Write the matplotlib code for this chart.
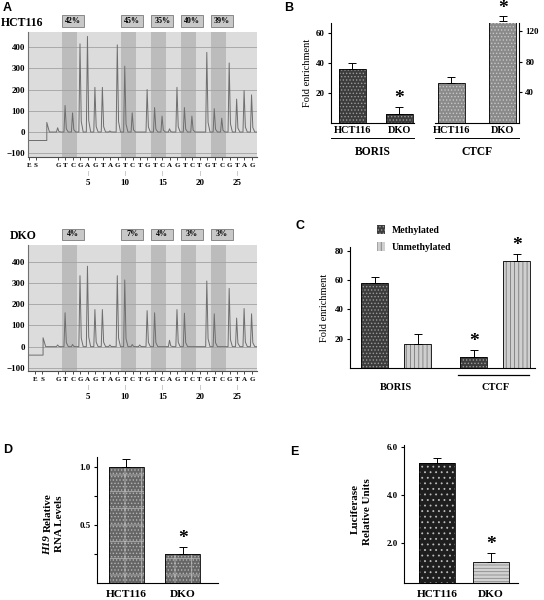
import matplotlib.pyplot as plt
import matplotlib.transforms as mtransforms
from matplotlib.patches import Patch, Rectangle

W, H = 544, 600
plt.rcParams['font.family'] = 'Liberation Serif'
plt.rcParams['font.weight'] = 'bold'
plt.rcParams['hatch.linewidth'] = 0.6

# ---- data ----
# panel A: pyrograms
seq = list('GTCGAGTAGTCTGTCAGTCTGTCGTAG')
positions = list(range(1, len(seq) + 1))
cpg_sites = [2, 10, 14, 18, 22]
hct_pct = ['42%', '45%', '35%', '40%', '39%']
dko_pct = ['4%', '7%', '4%', '3%', '3%']
hct_peaks = [20, 125, 90, 415, 450, 210, 210, 5, 410, 310, 90, 0, 200, 115, 75,
             15, 210, 115, 75, 0, 375, 110, 65, 325, 155, 195, 175]
dko_peaks = [8, 160, 10, 335, 380, 175, 175, 8, 335, 315, 10, 8, 170, 160, 0,
             30, 175, 158, 0, 0, 310, 155, 0, 275, 135, 180, 155]
pyro_yticks = [-100, 0, 100, 200, 300, 400]
num_ticks = [5, 10, 15, 20, 25]

# panel B: ChIP fold enrichment
cells = ['HCT116', 'DKO']
boris_b = [36, 6]
boris_b_err = [4, 4.5]
ctcf_b = [52, 133]
ctcf_b_err = [7.5, 7]

# panel C: methylated / unmethylated
groups = ['BORIS', 'CTCF']
meth = [58, 7.5]
meth_err = [4, 4.5]
unmeth = [16.5, 73]
unmeth_err = [6.5, 5]

# panel D: H19 RNA
h19 = [1.0, 0.25]
h19_err = [0.07, 0.06]

# panel E: luciferase
luc = [5.35, 1.2]
luc_err = [0.22, 0.34]

fig = plt.figure(figsize=(W / 100, H / 100), dpi=100)


def add_ax(x0, y0, x1, y1):
    return fig.add_axes([x0 / W, 1 - y1 / H, (x1 - x0) / W, (y1 - y0) / H])


def pbar(ax, x, h, w, fc, hatch, hc):
    ax.bar(x, h, w, color=fc, hatch=hatch, edgecolor=hc, linewidth=0, zorder=2)
    ax.bar(x, h, w, fill=False, edgecolor='black', linewidth=0.6, zorder=3)


def ebar(ax, x, h, e):
    ax.errorbar(x, h, yerr=[[0] * len(h), e], fmt='none', ecolor='black',
                elinewidth=0.7, capsize=3, capthick=0.7, zorder=4, clip_on=False)


def star(ax, x, y, dy=0):
    ax.annotate('*', (x, y), xytext=(0, dy), textcoords='offset points',
                ha='center', va='bottom', fontsize=14, annotation_clip=False)


def letter(x, y, s):
    fig.text(x / W, 1 - y / H, s, family='Liberation Sans', weight='bold',
             fontsize=9, ha='left', va='center')


# ---- panel A ----
def pyro(box, peaks, pct, es_pos, step_x, spike, ylim):
    x0, y0, x1, y1 = box
    ax = add_ax(*box)
    ax.set_xlim(-3.02, 27.68)
    ax.set_ylim(*ylim)
    ax.set_facecolor('#dcdcdc')
    for p in cpg_sites:
        ax.axvspan(p - 0.5, p + 1.5, color='#bcbcbc', lw=0, zorder=0.5)
    for t in pyro_yticks:
        ax.axhline(t, color='#a2a2a2', lw=0.6, zorder=1)
    # trace: baseline step, then one spike per dispensation
    xs = [-3.02, step_x, step_x, step_x + 0.35]
    ys = [-40, -40, spike, 0]
    for p, h in zip(positions, peaks):
        xs += [p - 0.2, p - 0.05, p + 0.12, p + 0.38]
        ys += [0, h, 0.12 * h, 0]
    xs.append(27.68)
    ys.append(0)
    ax.plot(xs, ys, color='#6e6e6e', lw=0.7, zorder=2)
    for s in ['top', 'right']:
        ax.spines[s].set_visible(False)
    ax.spines['left'].set_color('#707070')
    ax.spines['bottom'].set_color('#505050')
    ax.set_yticks(pyro_yticks)
    ax.tick_params(axis='y', length=0, labelsize=6.5, pad=2)
    ax.set_xticks(es_pos + positions)
    ax.set_xticklabels(['E', 'S'] + seq, fontsize=5)
    ax.tick_params(axis='x', length=2, width=0.5, pad=2)
    hpx = y1 - y0
    tr = mtransforms.blended_transform_factory(ax.transData, ax.transAxes)
    for n in num_ticks:
        ax.text(n, -16 / hpx, '|', transform=tr, ha='center', va='center',
                fontsize=4, weight='normal', color='#404040')
        ax.text(n, -26 / hpx, str(n), transform=tr, ha='center', va='center',
                fontsize=6.5)
    for p, s in zip(cpg_sites, pct):
        ax.add_patch(Rectangle((p - 0.5, 1 + 5.5 / hpx), 2.95, 11 / hpx,
                               transform=tr, fc='#c8c8c8', ec='#7a7a7a',
                               lw=0.6, clip_on=False))
        ax.text(p + 0.975, 1 + 11 / hpx, s, transform=tr, ha='center',
                va='center', fontsize=5.8)
    return ax


pyro((28, 32, 257, 157), hct_peaks, hct_pct, [-2.9, -1.95], -0.5, 45, (-117.6, 470.6))
pyro((28, 245, 257, 371), dko_peaks, dko_pct, [-2.1, -1.1], -1.0, 42, (-115, 480))
fig.text(1 / W, 1 - 23 / H, 'HCT116', fontsize=8.5, va='center')
fig.text(10 / W, 1 - 236 / H, 'DKO', fontsize=8.5, va='center')
letter(3, 8, 'A')

# ---- panel B ----
xs2 = [0, 1]
axb1 = add_ax(331, 23, 414, 123)
axb1.set_xlim(-0.46, 1.32)
axb1.set_ylim(0, 66.7)
pbar(axb1, xs2, boris_b, 0.58, '#3c3c3c', '.....', '#9a9a9a')
ebar(axb1, xs2, boris_b, boris_b_err)
star(axb1, 1, boris_b[1] + boris_b_err[1])
axb1.set_yticks([20, 40, 60])
axb1.set_ylabel('Fold enrichment', fontsize=7.5, labelpad=3)

axb2 = add_ax(435, 23, 519, 123)
axb2.set_xlim(-0.32, 1.32)
axb2.set_ylim(0, 130.7)
pbar(axb2, xs2, ctcf_b, 0.53, '#8a8a8a', '.....', '#c6c6c6')
ebar(axb2, xs2, ctcf_b, ctcf_b_err)
star(axb2, 1, ctcf_b[1] + ctcf_b_err[1], dy=-1)
axb2.yaxis.tick_right()
axb2.set_yticks([40, 80, 120])

for ax, name in [(axb1, 'BORIS'), (axb2, 'CTCF')]:
    for s in ['top', 'right', 'left']:
        ax.spines[s].set_visible(False)
    ax.spines['left' if ax is axb1 else 'right'].set_visible(True)
    ax.set_xticks(xs2)
    ax.set_xticklabels(cells, fontsize=7.5)
    ax.tick_params(axis='x', length=0, pad=2)
    ax.tick_params(axis='y', length=2.5, labelsize=6.5, pad=2)
    ax.plot([0, 1], [-0.15, -0.15], transform=ax.transAxes, color='black',
            lw=0.7, clip_on=False)
    ax.text(0.5, -0.29, name, transform=ax.transAxes, ha='center', va='center',
            fontsize=8.3)
letter(284, 8, 'B')

# ---- panel C ----
axc = add_ax(350, 247, 535, 368)
axc.set_xlim(-0.465, 1.40)
axc.set_ylim(0, 82.7)
gx = [0, 1]
off = 0.218
pbar(axc, [g - off for g in gx], meth, 0.273, '#3c3c3c', '.....', '#9a9a9a')
pbar(axc, [g + off for g in gx], unmeth, 0.273, '#cfcfcf', '||||', '#7a7a7a')
ebar(axc, [g - off for g in gx], meth, meth_err)
ebar(axc, [g + off for g in gx], unmeth, unmeth_err)
star(axc, 1 - off, meth[1] + meth_err[1])
star(axc, 1 + off, unmeth[1] + unmeth_err[1])
for s in ['top', 'right']:
    axc.spines[s].set_visible(False)
axc.set_yticks([20, 40, 60, 80])
axc.tick_params(axis='y', length=2.5, labelsize=6.5, pad=2)
axc.set_xticks([])
axc.set_ylabel('Fold enrichment', fontsize=7.5, labelpad=4)
trc = mtransforms.blended_transform_factory(axc.transData, axc.transAxes)
axc.plot([0.626, 1.343], [-0.058, -0.058], transform=trc, color='black',
         lw=0.9, clip_on=False)
for g, name in zip(gx, groups):
    axc.text(g, -0.165, name, transform=trc, ha='center', va='center', fontsize=7.5)
axc.legend(handles=[Patch(fc='#3c3c3c', hatch='.....', ec='#9a9a9a', lw=0),
                    Patch(fc='#cfcfcf', hatch='||||', ec='#7a7a7a', lw=0)],
           labels=['Methylated', 'Unmethylated'], loc='upper left',
           bbox_to_anchor=(370 / W, 1 - 218 / H), bbox_transform=fig.transFigure,
           frameon=False, fontsize=7, handlelength=0.8, handleheight=1.1,
           handletextpad=0.7, labelspacing=0.75, borderpad=0.2)
letter(296, 226, 'C')

# ---- panel D ----
axd = add_ax(97, 457, 218, 583)
axd.set_xlim(-0.52, 1.62)
axd.set_ylim(0, 1.085)
pbar(axd, xs2, h19, 0.62, '#666666', '+.....', '#b4b4b4')
ebar(axd, xs2, h19, h19_err)
star(axd, 1, h19[1] + h19_err[1])
for s in ['top', 'right']:
    axd.spines[s].set_visible(False)
axd.set_yticks([0.25, 0.5, 0.75, 1.0])
axd.set_yticklabels(['', '0.5', '', '1.0'])
axd.tick_params(axis='y', length=2.5, labelsize=6.5, pad=2)
axd.set_xticks(xs2)
axd.set_xticklabels(cells, fontsize=8.2)
axd.tick_params(axis='x', length=0, pad=5)
fig.text(60 / W, 1 - 524 / H, 'RNA Levels', rotation=90, fontsize=8,
         ha='center', va='center')
trel = fig.text(48 / W, 1 - 493 / H, 'Relative', rotation=90, fontsize=8,
                ha='center', va='top')
# italic gene name sits just below "Relative" on the same rotated line
fig.add_artist(plt.Annotation('H19', xy=(0.5, 0), xycoords=trel,
                              xytext=(0, -2.5), textcoords='offset points',
                              rotation=90, fontsize=8, style='italic',
                              ha='center', va='top'))
letter(3, 450, 'D')

# ---- panel E ----
axe = add_ax(404, 445, 518, 583)
axe.set_xlim(-0.61, 1.5)
axe.set_ylim(0.3, 6.1)
pbar(axe, [0], luc[:1], 0.67, '#1e1e1e', '...', '#bdbdbd')
pbar(axe, [1], luc[1:], 0.67, '#d2d2d2', '-----', '#8a8a8a')
ebar(axe, xs2, luc, luc_err)
star(axe, 1, luc[1] + luc_err[1])
for s in ['top', 'right']:
    axe.spines[s].set_visible(False)
axe.set_yticks([2.0, 4.0, 6.0])
axe.set_yticklabels(['2.0', '4.0', '6.0'])
axe.tick_params(axis='y', length=2.5, labelsize=6.5, pad=2)
axe.set_xticks(xs2)
axe.set_xticklabels(cells, fontsize=8.2)
axe.tick_params(axis='x', length=0, pad=5)
fig.text(355 / W, 1 - 509 / H, 'Luciferase', rotation=90, fontsize=8,
         ha='center', va='center')
fig.text(368 / W, 1 - 512 / H, 'Relative Units', rotation=90, fontsize=8,
         ha='center', va='center')
letter(290, 452, 'E')

fig.savefig('out.png', dpi=100)
